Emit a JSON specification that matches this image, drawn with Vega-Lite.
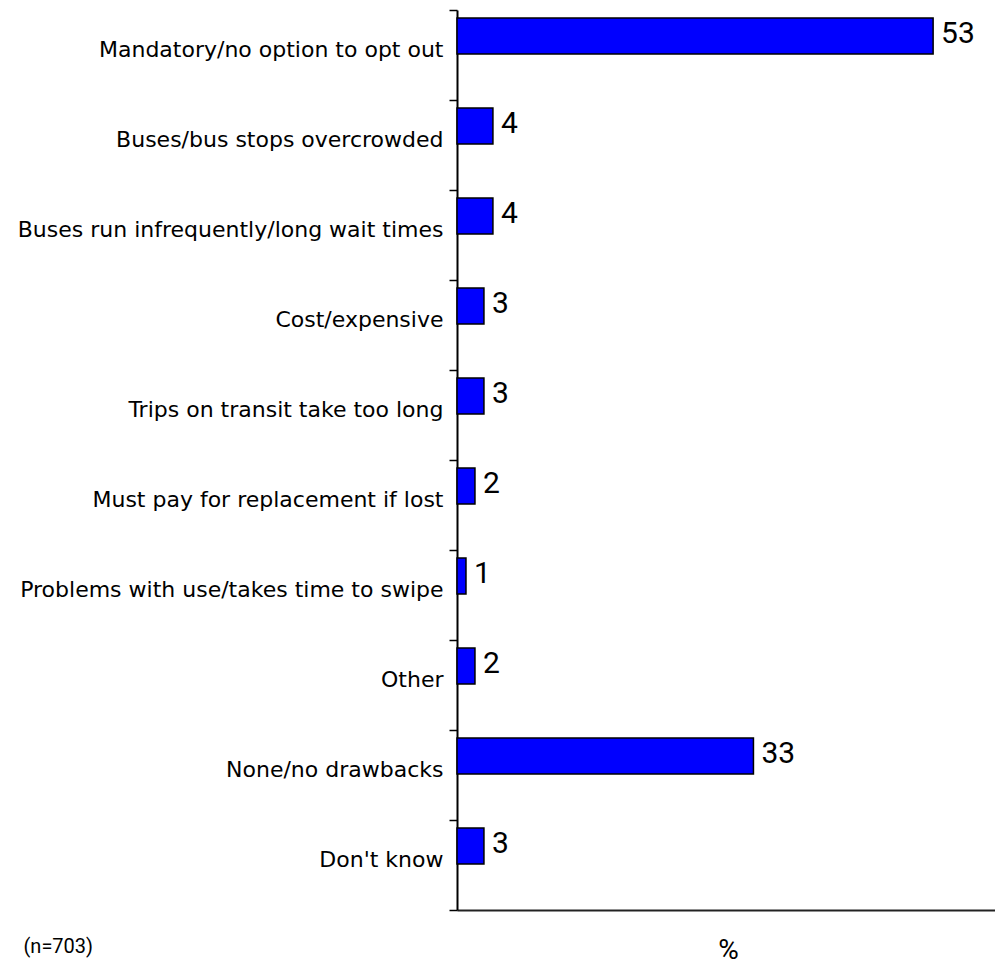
{
  "$schema": "https://vega.github.io/schema/vega-lite/v6.json",
  "width": 539,
  "height": 900,
  "autosize": {"type": "none"},
  "padding": {"left": 457, "top": 10, "right": 0, "bottom": 55},
  "background": "white",
  "config": {"view": {"stroke": null}},
  "data": {
    "values": [
      {"reason": "Mandatory/no option to opt out", "pct": 53},
      {"reason": "Buses/bus stops overcrowded", "pct": 4},
      {"reason": "Buses run infrequently/long wait times", "pct": 4},
      {"reason": "Cost/expensive", "pct": 3},
      {"reason": "Trips on transit take too long", "pct": 3},
      {"reason": "Must pay for replacement if lost", "pct": 2},
      {"reason": "Problems with use/takes time to swipe", "pct": 1},
      {"reason": "Other", "pct": 2},
      {"reason": "None/no drawbacks", "pct": 33},
      {"reason": "Don't know", "pct": 3}
    ]
  },
  "encoding": {
    "y": {
      "field": "reason",
      "type": "nominal",
      "sort": null,
      "scale": {"paddingInner": 0, "paddingOuter": 0},
      "axis": {
        "title": "(n=703)",
        "titleAngle": 0,
        "titleX": -434,
        "titleY": 936,
        "titleAlign": "left",
        "titleBaseline": "middle",
        "titleFont": "Roboto",
        "titleFontSize": 20,
        "titleFontWeight": "normal",
        "titleColor": "black",
        "tickBand": "extent",
        "tickSize": 8,
        "tickColor": "black",
        "tickWidth": 1.5,
        "domainColor": "black",
        "domainWidth": 2,
        "labelPadding": 6,
        "labelOffset": -6,
        "labelFont": "DejaVu Sans",
        "labelFontSize": 22,
        "labelColor": "black",
        "labelLimit": 500
      }
    },
    "x": {
      "field": "pct",
      "type": "quantitative",
      "scale": {"domain": [0, 60], "nice": false},
      "axis": {
        "title": "%",
        "titleFont": "Liberation Sans Narrow, Roboto",
        "titleFontSize": 28,
        "titleFontWeight": "normal",
        "titleColor": "black",
        "titleX": 271,
        "titleY": 40,
        "titleBaseline": "middle",
        "ticks": false,
        "labels": false,
        "grid": false,
        "domainColor": "#222222",
        "domainWidth": 2
      }
    }
  },
  "layer": [
    {
      "mark": {"type": "bar", "height": 36, "yOffset": -19, "fill": "#0000FF", "stroke": "black", "strokeWidth": 1.5}
    },
    {
      "mark": {"type": "text", "align": "left", "baseline": "middle", "dx": 8, "yOffset": -21, "font": "Liberation Sans Narrow, Roboto", "fontSize": 30, "color": "black"},
      "encoding": {"text": {"field": "pct", "type": "quantitative"}}
    }
  ]
}
